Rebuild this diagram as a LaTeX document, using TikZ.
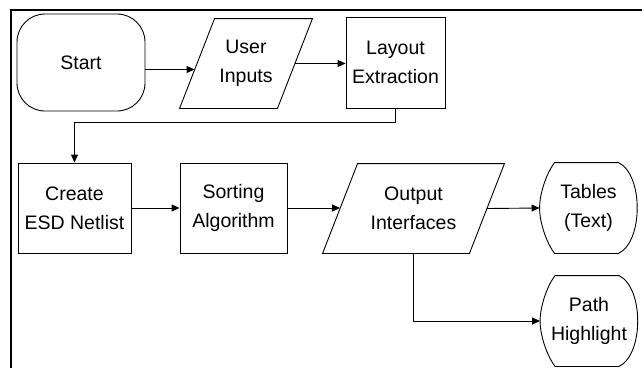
\documentclass[tikz,border=0pt]{standalone}
\usepackage{fontspec}
\setmainfont{Liberation Sans}
\usetikzlibrary{arrows.meta}

\begin{document}
\begin{tikzpicture}[x=1pt,y=-1pt]

\tikzset{block/.style = {shape=rectangle,draw,line width=0.9pt,align=center,
  font=\fontsize{19.5}{29}\selectfont}}
\tikzset{io/.style = {block,draw=none,minimum height=89pt}}
\tikzset{terminal/.style = {block,rounded corners=28pt}}
\tikzset{display/.style = {block,draw=none,minimum width=97pt,minimum height=90pt}}
\tikzset{edge/.style = {-{Triangle[length=8pt,width=7pt]},line width=0.9pt}}

\useasboundingbox (0,0) rectangle (642,368);
% frame
\draw[line width=2pt] (11,368) -- (11,10) -- (642,10);

% top row
\node[terminal,minimum width=128pt,minimum height=97pt] (start) at (81,62.5) {Start};
\node[io,minimum width=97pt] (user) at (246,63.5) {User\\Inputs};
\node[block,minimum width=99pt,minimum height=91pt] (layout) at (395.5,62.5) {Layout\\Extraction};

% bottom row
\node[block,minimum width=113pt,minimum height=90pt] (netlist) at (74.5,208) {Create\\ESD Netlist};
\node[block,minimum width=107pt,minimum height=90pt] (sorting) at (233.5,208) {Sorting\\Algorithm};
\node[io,minimum width=146pt] (output) at (413.5,208.5) {Output\\Interfaces};
\node[display] (tables) at (588.5,208) {Tables\\(Text)};
\node[display] (path) at (589,321) {Path\\Highlight};

% slanted outlines of the input/output boxes
\foreach \d in {user,output}
  \draw[line width=0.9pt] ([xshift=17.5pt]\d.north west) -- ([xshift=17.5pt]\d.north east)
    -- ([xshift=-17.5pt]\d.south east) -- ([xshift=-17.5pt]\d.south west) -- cycle;

% outlines of the display symbols
\foreach \d in {tables,path}
  \draw[line width=0.9pt] ([xshift=15pt]\d.north west) -- ([xshift=-19pt]\d.north east)
    .. controls +(25,12) and +(25,-12) .. ([xshift=-19pt]\d.south east)
    -- ([xshift=15pt]\d.south west)
    .. controls +(-9,-12) and +(0,13) .. (\d.west)
    .. controls +(0,-13) and +(-9,12) .. ([xshift=15pt]\d.north west) -- cycle;

% edges
\draw[edge] ([yshift=-7pt]start.east) -- ([yshift=-7pt,xshift=-2.5pt]start.east -| user.west);
\draw[edge] (user.east) -- (user.east -| layout.west);
\draw[edge] (layout.south) -- ++(0,14) -| (netlist.north);
\draw[edge] (netlist) -- (sorting);
\draw[edge] (sorting.east) -- (sorting.east -| output.west);
\draw[edge] (output.east) -- (tables.west);
\draw[edge] (output.south) |- (path.west);
\end{tikzpicture}
\end{document}
